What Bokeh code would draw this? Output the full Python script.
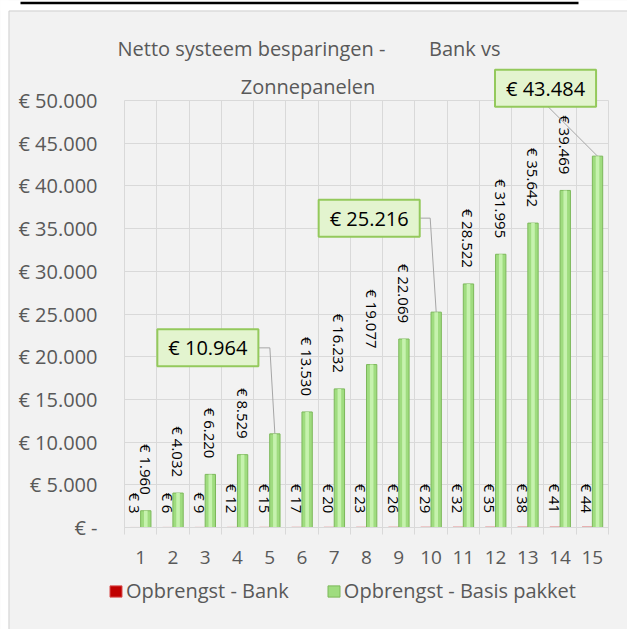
import math
from bokeh.plotting import figure
from bokeh.models import Range1d, FixedTicker, Label, Legend, LegendItem, ColumnDataSource
from bokeh.transform import dodge
from bokeh.embed import file_html
from bokeh.resources import INLINE
from bokeh.core.properties import value

# ---------------- data ----------------
years = list(range(1, 16))
bank = [3, 6, 9, 12, 15, 17, 20, 23, 26, 29, 32, 35, 38, 41, 44]
basis = [1960, 4032, 6220, 8529, 10964, 13530, 16232, 19077, 22069, 25216,
         28522, 31995, 35642, 39469, 43484]
y_ticks = list(range(0, 50001, 5000))
series_names = ["Opbrengst - Bank", "Opbrengst - Basis pakket"]
title_line1_left = "Netto systeem besparingen -"
title_line1_right = "Bank vs"
title_line2 = "Zonnepanelen"
callout_years = [5, 10, 15]


def eur(v):
    if v == 0:
        return "€ -"
    return "€ " + f"{v:,}".replace(",", ".")


FONT = "Open Sans"
GRID = "#D9D9D9"
GREY_TXT = "#595959"
BG = "#F2F2F2"

W, H = 627, 629
# plot area in canvas pixels
PL, PR, PT, PB = 124, 608, 100, 527
PX_X = (PR - PL) / 15.0
PX_Y = (PB - PT) / 50000.0


def X(px):
    return 0.5 + (px - PL) / PX_X


def Y(py):
    return (PB - py) / PX_Y


BAR_SHIFT = 0.16
BAR_W = 0.32

p = figure(width=W, height=H, output_backend="svg", toolbar_location=None,
           x_range=Range1d(X(0), X(W)), y_range=Range1d(Y(H), Y(0)),
           background_fill_color=BG, border_fill_color=BG)
p.min_border = 0
p.outline_line_color = None

boundaries = [i + 0.5 for i in range(0, 16)]

# grid
p.xgrid.ticker = FixedTicker(ticks=boundaries)
p.xgrid.grid_line_color = GRID
p.xgrid.cross_bounds = (Y(PB + 7), 50000)
p.ygrid.ticker = FixedTicker(ticks=y_ticks)
p.ygrid.grid_line_color = GRID
p.ygrid.cross_bounds = (0.5, 15.5)

# x axis
p.xaxis.fixed_location = 0
p.xaxis.bounds = (0.5, 15.5)
p.xaxis.ticker = FixedTicker(ticks=years)
p.xaxis.major_tick_line_color = None
p.xaxis.minor_tick_line_color = None
p.xaxis.major_tick_out = 0
p.xaxis.major_tick_in = 0
p.xaxis.axis_line_color = GRID
p.xaxis.major_label_standoff = 23
p.xaxis.major_label_text_font = FONT
p.xaxis.major_label_text_font_size = "19px"
p.xaxis.major_label_text_color = GREY_TXT

# y axis
p.yaxis.fixed_location = 0.5
p.yaxis.ticker = FixedTicker(ticks=y_ticks)
p.yaxis.major_label_overrides = {t: eur(t) for t in y_ticks}
p.yaxis.axis_line_color = None
p.yaxis.major_tick_line_color = None
p.yaxis.minor_tick_line_color = None
p.yaxis.major_tick_out = 0
p.yaxis.major_tick_in = 0
p.yaxis.major_label_standoff = 27
p.yaxis.major_label_text_font = FONT
p.yaxis.major_label_text_font_size = "20px"
p.yaxis.major_label_text_color = GREY_TXT

# page frame: white margin strips, chart-box border, cut-off rule above
p.quad(left=[X(-5), X(-5)], right=[X(8), X(W + 5)], bottom=[Y(H + 5), Y(10)], top=[Y(-5), Y(-5)],
       fill_color="white", line_color=None)
p.segment(x0=[X(8.5), X(8.5)], y0=[Y(10.5), Y(10.5)], x1=[X(8.5), X(W + 5)], y1=[Y(H + 5), Y(10.5)],
          line_color="#D0D0D0", line_width=1)
p.segment(x0=[X(20)], y0=[Y(2.5)], x1=[X(578)], y1=[Y(2.5)], line_color="black", line_width=2.5)

# bars
src = ColumnDataSource(dict(year=years, bank=bank, basis=basis,
                            bank_lbl=[eur(v) for v in bank]))
r_bank = p.vbar(x=dodge("year", -BAR_SHIFT, range=p.x_range), top="bank", width=BAR_W,
                source=src, fill_color="#C00000", line_color="#D94A4A", line_width=1)
r_basis = p.vbar(x=dodge("year", BAR_SHIFT, range=p.x_range), top="basis", width=BAR_W,
                 source=src, fill_color="#9FDC7F", line_color="#7CB85A", line_width=1)
p.vbar(x=dodge("year", BAR_SHIFT, range=p.x_range), top="basis", width=BAR_W * 0.35,
       source=src, fill_color="#C6F2AE", line_color=None)

# rotated data labels (reading top to bottom, ending just above the bar)
p.text(x=dodge("year", -BAR_SHIFT, range=p.x_range), y="bank", text="bank_lbl", source=src,
       angle=-math.pi / 2, text_align="right", text_baseline="middle", y_offset=-14,
       text_font=value(FONT), text_font_size="15px", text_color="black")

lbl_years = [y for y in years if y not in callout_years]
lbl_vals = [basis[y - 1] for y in lbl_years]
src_lbl = ColumnDataSource(dict(year=lbl_years, basis=lbl_vals,
                                lbl=[eur(v) for v in lbl_vals]))
p.text(x=dodge("year", BAR_SHIFT, range=p.x_range), y="basis", text="lbl", source=src_lbl,
       angle=-math.pi / 2, text_align="right", text_baseline="middle", y_offset=-16,
       text_font=value(FONT), text_font_size="15px", text_color="black")

# callouts: box center offset and leader polyline offsets in pixels from bar top
callout_box_off = {5: (-67, 86), 10: (-67, 94), 15: (-52, 68)}
callout_leader_off = {5: [(-16, 86), (-5, 86), (0, 0)],
                      10: [(-16, 94), (-6, 94), (0, 0)],
                      15: [(-51, 51), (0, 0)]}
xs, ys = [], []
for yr in callout_years:
    v = basis[yr - 1]
    bx = yr + BAR_SHIFT
    xs.append([bx + dx / PX_X for dx, dy in callout_leader_off[yr]])
    ys.append([v + dy / PX_Y for dx, dy in callout_leader_off[yr]])
p.multi_line(xs=xs, ys=ys, line_color="#A6A6A6", line_width=1)

for yr in callout_years:
    v = basis[yr - 1]
    dx, dy = callout_box_off[yr]
    p.add_layout(Label(x=yr + BAR_SHIFT, y=v, x_offset=dx, y_offset=dy, text=eur(v),
                       text_align="center", text_baseline="middle",
                       text_font=FONT, text_font_size="20px", text_color="black",
                       background_fill_color="#E3F4CF", border_line_color="#94C95C",
                       border_line_width=2, padding=(11, 5)))

# title
tkw = dict(text_font=FONT, text_font_size="20px", text_color=GREY_TXT, text_baseline="alphabetic")
p.add_layout(Label(x=X(117), y=Y(48), text=title_line1_left, text_align="left", **tkw))
p.add_layout(Label(x=X(500), y=Y(48), text=title_line1_right, text_align="right", **tkw))
p.add_layout(Label(x=X(307.5), y=Y(86), text=title_line2, text_align="center", **tkw))

# legend
legend = Legend(items=[LegendItem(label=series_names[0], renderers=[r_bank]),
                       LegendItem(label=series_names[1], renderers=[r_basis])],
                orientation="horizontal", location=(108, H - 604),
                label_text_font=FONT, label_text_font_size="20px", label_text_color=GREY_TXT,
                glyph_width=15, glyph_height=14, label_standoff=3, spacing=37,
                padding=0, margin=0, border_line_color=None, background_fill_alpha=0)
p.add_layout(legend)

open("out.html", "w").write(file_html(p, INLINE))
